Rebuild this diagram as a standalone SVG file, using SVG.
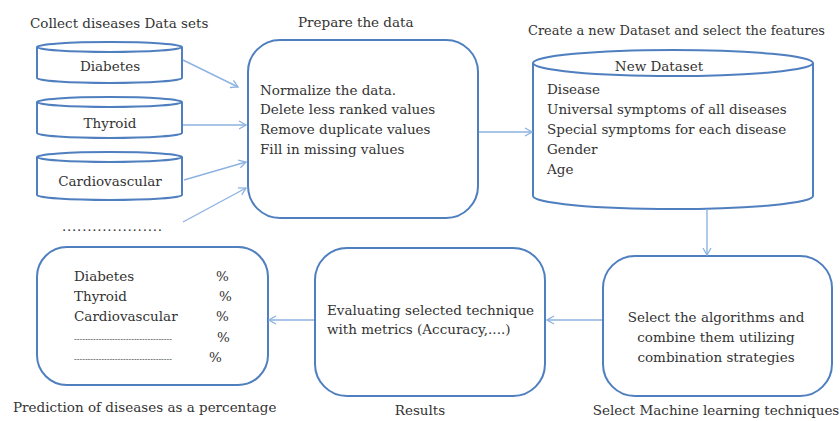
<svg xmlns="http://www.w3.org/2000/svg" width="840" height="421" viewBox="0 0 840 421" font-family="'DejaVu Serif', 'Liberation Serif', serif">
<defs>
<marker id="ah" markerWidth="10" markerHeight="10" refX="9" refY="5" orient="auto" markerUnits="userSpaceOnUse">
<path d="M2,1 L9,5 L2,9" fill="none" stroke="#8db3e2" stroke-width="1.3"/>
</marker>
<style>
text{font-size:13.5px;fill:#333}
.box{fill:#fff;stroke:#4f7fbf;stroke-width:2}
.cyl{fill:#fff;stroke:#4f7fbf;stroke-width:2}
.con{fill:none;stroke:#8db3e2;stroke-width:1.4;marker-end:url(#ah)}
.mid{text-anchor:middle}
.dash{font-size:8px}
</style>
</defs>
<rect width="840" height="421" fill="#fff"/>

<text x="30" y="28">Collect diseases Data sets</text>
<text x="298" y="27">Prepare the data</text>
<text x="528" y="35" textLength="297" lengthAdjust="spacingAndGlyphs">Create a new Dataset and select the features</text>
<text x="13" y="412">Prediction of diseases as a percentage</text>
<text x="420" y="415" class="mid">Results</text>
<text x="716" y="415" class="mid">Select Machine learning techniques</text>

<g id="diabetes">
<path class="cyl" d="M37,47 L37,78 A72.5,5 0 0 0 182,78 L182,47 A72.5,5 0 0 0 37,47 Z"/>
<path class="cyl" d="M37,47 A72.5,5 0 0 0 182,47" fill="none"/>
<text x="110" y="71" class="mid">Diabetes</text>
</g>
<g id="thyroid">
<path class="cyl" d="M37,102 L37,133 A72.5,5 0 0 0 182,133 L182,102 A72.5,5 0 0 0 37,102 Z"/>
<path class="cyl" d="M37,102 A72.5,5 0 0 0 182,102" fill="none"/>
<text x="110" y="128" class="mid">Thyroid</text>
</g>
<g id="cardiovascular">
<path class="cyl" d="M37,157 L37,195 A72.5,5 0 0 0 182,195 L182,157 A72.5,5 0 0 0 37,157 Z"/>
<path class="cyl" d="M37,157 A72.5,5 0 0 0 182,157" fill="none"/>
<text x="110" y="186" class="mid">Cardiovascular</text>
</g>
<g id="more">
<text x="62" y="231" style="letter-spacing:0.75px">....................</text>
</g>

<g id="prepare">
<rect class="box" x="248" y="40" width="230" height="178" rx="32" ry="32"/>
<text x="260" y="95">Normalize the data.</text>
<text x="260" y="114">Delete less ranked values</text>
<text x="260" y="134">Remove duplicate values</text>
<text x="260" y="154">Fill in missing values</text>
</g>

<g id="newdataset">
<path class="cyl" d="M533,63 L533,196 A140,13 0 0 0 813,196 L813,63 A140,13 0 0 0 533,63 Z"/>
<path class="cyl" d="M533,63 A140,13 0 0 0 813,63" fill="none"/>
<text x="659" y="71" class="mid">New Dataset</text>
<text x="547" y="94">Disease</text>
<text x="547" y="114">Universal  symptoms of all diseases</text>
<text x="547" y="134">Special symptoms for each disease</text>
<text x="547" y="154">Gender</text>
<text x="547" y="174">Age</text>
</g>

<g id="ml">
<rect class="box" x="603" y="256" width="229" height="140" rx="32" ry="32"/>
<text x="716" y="322" class="mid">Select the algorithms and</text>
<text x="716" y="342" class="mid">combine them utilizing</text>
<text x="716" y="362" class="mid">combination strategies</text>
</g>

<g id="results">
<rect class="box" x="315" y="248" width="230" height="148" rx="32" ry="32"/>
<text x="327" y="315">Evaluating selected technique</text>
<text x="327" y="334">with metrics (Accuracy,....)</text>
</g>

<g id="prediction">
<rect class="box" x="37" y="247" width="231" height="138" rx="30" ry="30"/>
<text x="74" y="281">Diabetes</text>
<text x="74" y="301">Thyroid</text>
<text x="74" y="321">Cardiovascular</text>
<text x="74" y="342" class="dash" textLength="98" lengthAdjust="spacingAndGlyphs">------------------------------------</text>
<text x="74" y="362" class="dash" textLength="98" lengthAdjust="spacingAndGlyphs">------------------------------------</text>
<text x="216" y="281">%</text>
<text x="219" y="301">%</text>
<text x="216" y="321">%</text>
<text x="217" y="342">%</text>
<text x="209" y="362">%</text>
</g>

<g id="connectors">
<line class="con" x1="183" y1="60" x2="238" y2="87"/>
<line class="con" x1="183" y1="125" x2="246" y2="125"/>
<line class="con" x1="184" y1="180" x2="246" y2="162"/>
<line class="con" x1="183" y1="222" x2="246" y2="188"/>
<line class="con" x1="479" y1="132" x2="532" y2="132"/>
<line class="con" x1="707" y1="209" x2="707" y2="255"/>
<line class="con" x1="602" y1="320" x2="547" y2="320"/>
<line class="con" x1="314" y1="320" x2="269" y2="320"/>
</g>
</svg>
